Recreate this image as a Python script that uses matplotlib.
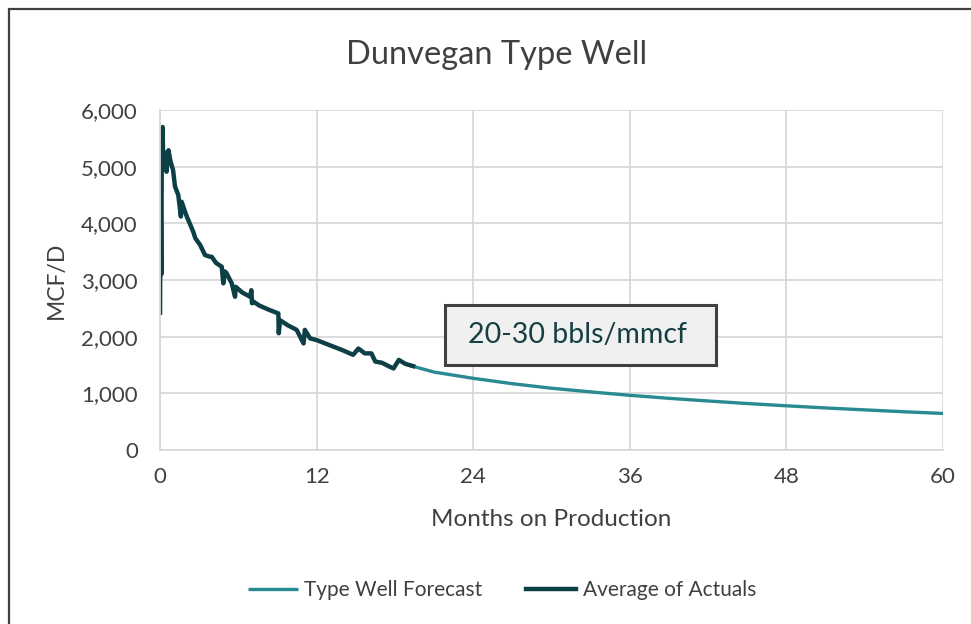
import matplotlib
matplotlib.use('Agg')
import matplotlib.pyplot as plt
from matplotlib.patches import Rectangle
from matplotlib.ticker import FuncFormatter, MultipleLocator

plt.rcParams['font.family'] = ['Lato', 'DejaVu Sans']

# data
actual_months = [0, 0.05, 0.1, 0.13, 0.2, 0.25, 0.35, 0.5, 0.65, 0.8, 1.0, 1.15, 1.4, 1.6,
                 1.66, 2.0, 2.55, 2.7, 3.07, 3.45, 3.83, 3.96, 4.3, 4.73, 4.85, 4.98, 5.1,
                 5.5, 5.75, 5.8, 6.3, 6.9, 7.0, 7.05, 7.15, 7.6, 8.4, 9.07, 9.1, 9.2, 9.8,
                 10.47, 11.0, 11.1, 11.5, 12.0, 13.0, 14.0, 14.8, 15.2, 15.7, 16.2, 16.5,
                 17.0, 17.6, 17.9, 18.3, 18.8, 19.4]
actual_mcfd = [2420, 4600, 3100, 4900, 5700, 5000, 5250, 4910, 5290, 5100, 4940, 4650, 4500,
               4120, 4380, 4150, 3850, 3740, 3620, 3440, 3410, 3410, 3300, 3235, 2940, 3150,
               3120, 2940, 2705, 2880, 2780, 2705, 2820, 2590, 2620, 2550, 2470, 2410, 2060,
               2290, 2200, 2120, 1880, 2120, 1970, 1940, 1850, 1760, 1680, 1790, 1705, 1705,
               1560, 1540, 1470, 1440, 1590, 1520, 1480]

forecast_months = [19.0, 19.5, 21, 24, 27, 30, 33, 36, 39, 42, 45, 48, 51, 54, 57, 60]
forecast_mcfd = [1500, 1470, 1375, 1265, 1170, 1090, 1025, 965, 912, 865, 820, 780, 742,
                 708, 675, 645]

x_ticks = [0, 12, 24, 36, 48, 60]

fig = plt.figure(figsize=(9.71, 6.24), dpi=100)
ax = fig.add_axes([160/971, 1 - 450/624, 783/971, 340/624])

ax.plot(forecast_months, forecast_mcfd, color='#2A8A91', lw=2.4,
        label='Type Well Forecast', solid_capstyle='butt')
ax.plot(actual_months, actual_mcfd, color='#0D3F47', lw=3.2,
        label='Average of Actuals', solid_joinstyle='round')

ax.set_xlim(0, 60)
ax.set_ylim(0, 6000)
ax.set_xticks(x_ticks)
ax.yaxis.set_major_locator(MultipleLocator(1000))
ax.yaxis.set_major_formatter(FuncFormatter(lambda v, p: f'{int(v):,}'))
ax.grid(True, color='#D9D9D9', lw=1.3)
ax.set_axisbelow(True)
for s in ax.spines.values():
  s.set_visible(False)
for side in ('left', 'bottom'):
  ax.spines[side].set_visible(True)
  ax.spines[side].set_color('#D9D9D9')
  ax.spines[side].set_linewidth(1.3)
ax.tick_params(length=0, labelsize=16, labelcolor='#404040')
ax.tick_params(axis='y', pad=16)
ax.tick_params(axis='x', pad=12)

fig.text(497/971, 1 - 55/624, 'Dunvegan Type Well', ha='center', va='center',
         fontsize=23.5, color='#404040')
ax.set_xlabel('Months on Production', fontsize=17.5, color='#404040', labelpad=16)
ax.set_ylabel('MCF/D', fontsize=16.5, color='#404040', labelpad=10)

# annotation box
box = Rectangle(((445 - 160)/783, (450 - 365)/340), 271/783, 60/340, transform=ax.transAxes,
                facecolor='#F0F0F0', edgecolor='#404040', lw=2.2, zorder=5)
ax.add_patch(box)
ax.text((577 - 160)/783, (450 - 335)/340, '20-30 bbls/mmcf', transform=ax.transAxes,
        ha='center', va='center', fontsize=20.5, color='#163F44', zorder=6)

fig.legend(loc='center', bbox_to_anchor=(502/971, 1 - 590/624), ncol=2, frameon=False,
           fontsize=15, handlelength=2.4, handletextpad=0.3, columnspacing=2.1,
           labelcolor='#404040')

# outer chart border (runs off the right and bottom)
fig.patches.append(Rectangle((9/971, -0.1), 1.2, 1.1 - 9/624, transform=fig.transFigure,
                             fill=False, edgecolor='#404040', lw=1.6))

fig.savefig('out.png', dpi=100)
